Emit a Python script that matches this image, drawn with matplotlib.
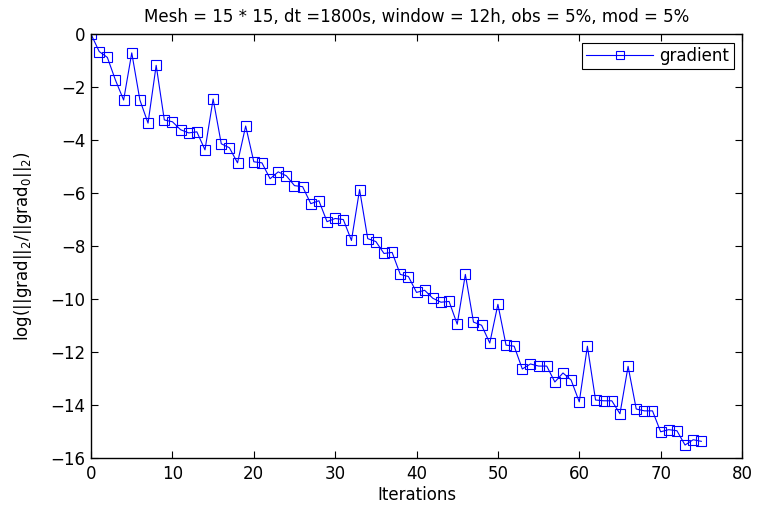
import matplotlib
matplotlib.use('Agg')
import matplotlib.pyplot as plt

iterations = list(range(76))
log_grad = [0.0, -0.65, -0.87, -1.73, -2.48, -0.7, -2.48, -3.35, -1.17, -3.23,
            -3.3, -3.6, -3.72, -3.68, -4.36, -2.44, -4.13, -4.28, -4.85, -3.46,
            -4.81, -4.85, -5.45, -5.19, -5.34, -5.71, -5.75, -6.39, -6.28, -7.07,
            -6.95, -6.99, -7.78, -5.86, -7.71, -7.82, -8.27, -8.23, -9.06, -9.14,
            -9.74, -9.66, -9.96, -10.11, -10.08, -10.94, -9.06, -10.86, -10.98, -11.65,
            -10.19, -11.73, -11.77, -12.63, -12.44, -12.52, -12.52, -13.12, -12.78, -13.05,
            -13.87, -11.77, -13.80, -13.83, -13.83, -14.32, -12.53, -14.14, -14.21, -14.21,
            -15.0, -14.92, -14.96, -15.5, -15.3, -15.36]

plt.rcParams['font.family'] = ['DejaVu Sans']
plt.rcParams['mathtext.default'] = 'regular'

fig = plt.figure(figsize=(7.59, 5.05), dpi=100)
ax = fig.add_axes([0.12, 0.0925, 0.8576, 0.8395])
ax.plot(iterations, log_grad, color='blue', linewidth=0.8, marker='s',
        markersize=7, markerfacecolor='none', markeredgecolor='blue',
        markeredgewidth=0.8, label='gradient')
ax.set_xlim(0, 80)
ax.set_ylim(-16, 0)
ax.set_xticks(range(0, 81, 10))
ax.set_yticks(range(-16, 1, 2))
ax.set_yticklabels(['\u221216', '\u221214', '\u221212', '\u221210', '\u22128',
                    '\u22126', '\u22124', '\u22122', '0'])
ax.tick_params(direction='in', top=True, right=True, labelsize=12, length=5)
ax.tick_params(axis='x', pad=5)
ax.tick_params(axis='y', pad=4)
for s in ax.spines.values():
    s.set_linewidth(1.0)
ax.set_xlabel('Iterations', fontsize=12, labelpad=2)
ax.set_ylabel(r'log(||grad||$_2$/||grad$_0$||$_2$)', fontsize=12, labelpad=12)
ax.set_title('Mesh = 15 * 15, dt =1800s, window = 12h, obs = 5%, mod = 5%',
             fontsize=12, pad=9)
leg = ax.legend(loc='upper right', fontsize=12, fancybox=False, framealpha=1,
                edgecolor='black', handlelength=4.0, markerscale=0.8,
                borderaxespad=0.5, borderpad=0.25, handletextpad=0.4)
leg.get_frame().set_linewidth(0.8)
fig.savefig('out.png', dpi=100)
